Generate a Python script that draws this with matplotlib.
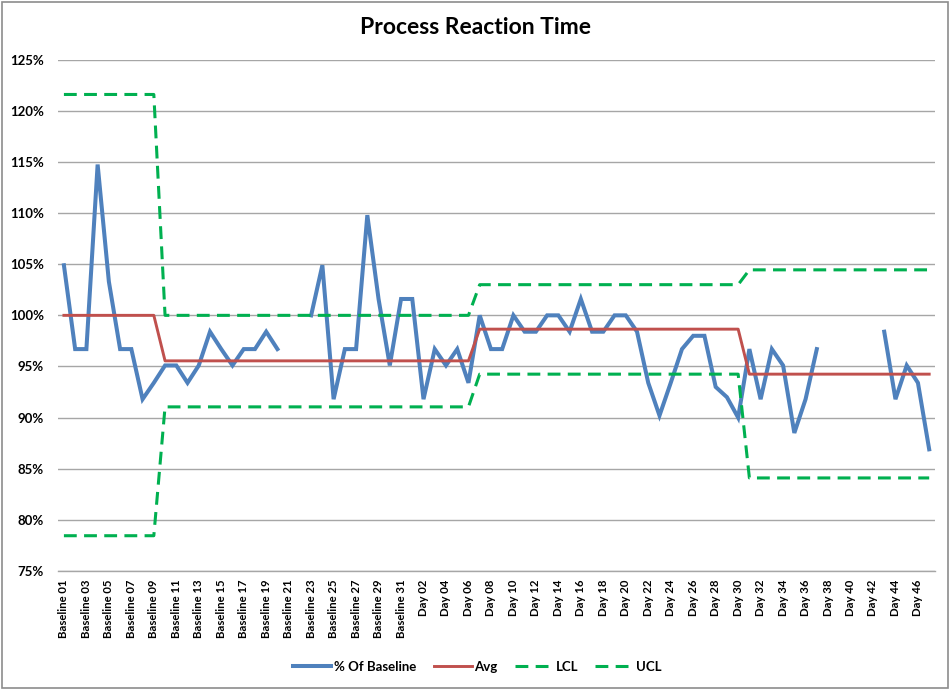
import numpy as np
import matplotlib
matplotlib.use("Agg")
import matplotlib.pyplot as plt
from matplotlib.ticker import FuncFormatter
from matplotlib.patches import Rectangle

plt.rcParams['font.family'] = ['Lato', 'DejaVu Sans']
plt.rcParams['font.weight'] = 'bold'

# ---------------- data ----------------
categories = [f"Baseline {i:02d}" for i in range(1, 32)] + [f"Day {i:02d}" for i in range(1, 48)]

pct_of_baseline = [
    104.9, 96.7, 96.7, 114.75, 103.3, 96.7, 96.7, 91.8, 93.4, 95.1,
    95.1, 93.4, 95.1, 98.4, 96.7, 95.1, 96.7, 96.7, 98.4, 96.7,
    np.nan, np.nan, 100.0, 104.9, 91.8, 96.7, 96.7, 109.8, 101.6, 95.1,
    101.6, 101.6, 91.8, 96.7, 95.1, 96.7, 93.4, 100.0, 96.7, 96.7,
    100.0, 98.4, 98.4, 100.0, 100.0, 98.4, 101.6, 98.4, 98.4, 100.0,
    100.0, 98.4, 93.4, 90.2, 93.4, 96.7, 98.0, 98.0, 93.0, 92.0,
    90.0, 96.7, 91.8, 96.7, 95.1, 88.5, 91.8, 96.7, np.nan, np.nan,
    np.nan, np.nan, np.nan, 98.4, 91.8, 95.1, 93.4, 86.9,
]

avg = [100.0] * 9 + [95.55] * 28 + [98.65] * 24 + [94.25] * 17
ucl = [121.6] * 9 + [100.0] * 28 + [103.0] * 24 + [104.45] * 17
lcl = [78.45] * 9 + [91.05] * 28 + [94.25] * 24 + [84.1] * 17

y_ticks = [75, 80, 85, 90, 95, 100, 105, 110, 115, 120, 125]
title = "Process Reaction Time"

# ---------------- figure ----------------
W, H = 950, 689
fig = plt.figure(figsize=(W / 100, H / 100), dpi=100)
ax = fig.add_axes([58.3 / W, 1 - 571 / H, (934.8 - 58.3) / W, (571 - 59.7) / H])

x = np.arange(len(categories))
blue, red, green = "#4F81BD", "#C0504D", "#00B050"
dash = (0, (4.2, 2.4))

ax.plot(x, pct_of_baseline, color=blue, lw=2.9, label="% Of Baseline", zorder=3,
        solid_joinstyle='miter')
ax.plot(x, avg, color=red, lw=2.1, label="Avg", zorder=4)
ax.plot(x, lcl, color=green, lw=2.2, linestyle=dash, label="LCL", zorder=5)
ax.plot(x, ucl, color=green, lw=2.2, linestyle=dash, label="UCL", zorder=5)

ax.set_xlim(-0.5, len(categories) - 0.5)
ax.set_ylim(75, 125)
ax.set_yticks(y_ticks)
ax.yaxis.set_major_formatter(FuncFormatter(lambda v, p: f"{v:.0f}%"))
ax.set_xticks(x[::2])
ax.set_xticklabels(categories[::2], rotation=90, fontsize=8.2, fontweight='bold')
ax.tick_params(axis='both', length=0)
ax.tick_params(axis='y', labelsize=9.5, pad=10.5)
ax.tick_params(axis='x', pad=6)

ax.grid(axis='y', color="#A6A6A6", lw=1.0)
ax.set_axisbelow(True)
for s in ['top', 'right', 'left']:
    ax.spines[s].set_visible(False)
ax.spines['bottom'].set_color("#A6A6A6")
ax.spines['bottom'].set_linewidth(1.0)

fig.text(475 / W, 1 - 28 / H, title, ha='center', va='center',
         fontsize=16.5, fontweight='bold')

leg = fig.legend(loc='center', bbox_to_anchor=(477.5 / W, 1 - 667 / H), ncol=4,
                 frameon=False, fontsize=9.5, handlelength=2.9, handletextpad=0.2,
                 columnspacing=1.3)
for t in leg.get_texts():
    t.set_fontweight('bold')

fig.patches.append(Rectangle((1.5 / W, 1.5 / H), (W - 4) / W, (H - 3) / H,
                             transform=fig.transFigure, fill=False,
                             edgecolor="#8C8C8C", lw=1.2))

fig.savefig("out.png", dpi=100)
